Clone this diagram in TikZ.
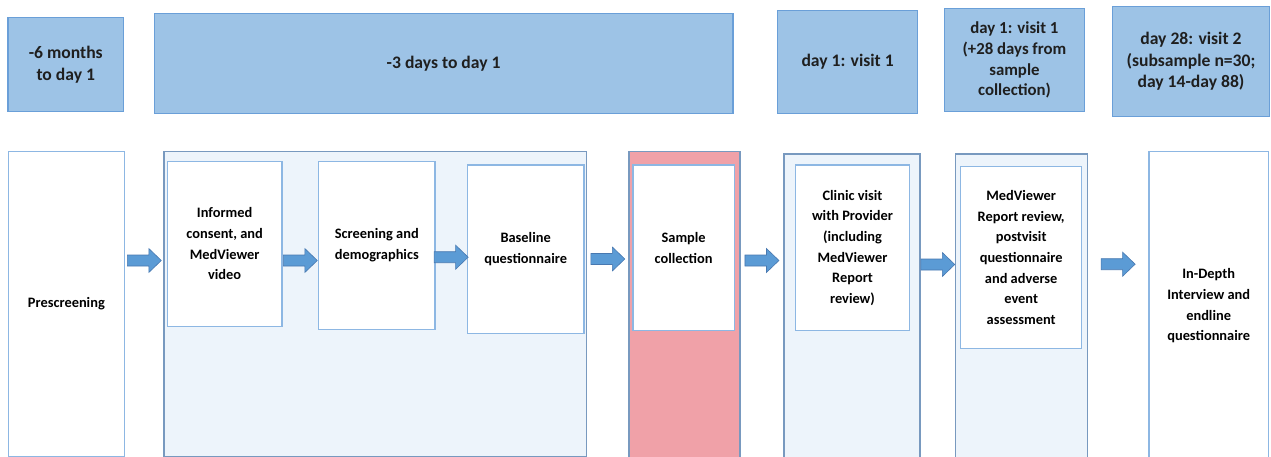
\documentclass[tikz,border=0pt]{standalone}
\usepackage{fontspec}
\setmainfont{Carlito}
\usetikzlibrary{calc}
\definecolor{hdrfill}{HTML}{9DC3E6}
\definecolor{hdrline}{HTML}{6A9FD8}
\definecolor{grpfill}{HTML}{EDF4FB}
\definecolor{grpline}{HTML}{7899BF}
\definecolor{boxline}{HTML}{8DB7E3}
\definecolor{pinkfill}{HTML}{F0A1A8}
\definecolor{arrowfill}{HTML}{5B9BD5}
\definecolor{arrowline}{HTML}{4878B0}
\begin{document}
\begin{tikzpicture}[x=1pt,y=-1pt,
    every node/.style={anchor=north west, inner sep=2pt, align=center},
    hdr/.style={fill=hdrfill, draw=hdrline, line width=1.2pt, text=black!88, font=\fontsize{17.6}{21.8}\selectfont\bfseries},
    grp/.style={fill=grpfill, draw=grpline, line width=1.3pt},
    stepbox/.style={fill=white, draw=boxline, line width=1.3pt, font=\fontsize{14.4}{20.6}\selectfont\bfseries},
    flow/.style={fill=arrowfill, draw=arrowline, line width=0.6pt,
      to path={let \p1=($(\tikztostart)!.5!(\tikztotarget)$) in
        (\x1-17pt,\y1-5.5pt) -- (\x1+4.5pt,\y1-5.5pt) -- (\x1+4.5pt,\y1-12pt) -- (\x1+17pt,\y1)
        -- (\x1+4.5pt,\y1+12pt) -- (\x1+4.5pt,\y1+5.5pt) -- (\x1-17pt,\y1+5.5pt) -- cycle}}]
    \useasboundingbox (0,0) rectangle (1271,457);
    \node (h1) at (7.3,16.7) [hdr, minimum width=115.7pt, minimum height=94.6pt]{-6 months\\to day 1};
    \node (h2) at (153.7,12.7) [hdr, minimum width=578.6pt, minimum height=100pt]{-3 days to day 1};
    \node (h3) at (777,10) [hdr, minimum width=140pt, minimum height=102.7pt]{day 1: visit 1};
    \node (h4) at (944,8.3) [hdr, minimum width=139.7pt, minimum height=102.7pt, font=\fontsize{16.8}{20.6}\selectfont\bfseries]{day 1: visit 1\\(+28 days from\\sample\\collection)};
    \node (h5) at (1111.7,5.7) [hdr, minimum width=157.3pt, minimum height=110pt]{day 28: visit 2\\(subsample n=30;\\day 14-day 88)};
    \node (s0) at (7.5,151) [stepbox, minimum width=116.5pt, minimum height=304.5pt]{Prescreening};
    \node (g1) at (163.3,150.7) [grp, minimum width=422.7pt, minimum height=305pt]{};
    \node (s1) at (166.7,160.7) [stepbox, minimum width=114.6pt, minimum height=165pt]{Informed\\consent, and\\MedViewer\\video};
    \node (s2) at (318,160.7) [stepbox, minimum width=116.3pt, minimum height=168pt]{Screening and\\demographics};
    \node (s3) at (466.7,164.3) [stepbox, minimum width=116.6pt, minimum height=168.4pt]{Baseline\\questionnaire};
    \node (g2) at (628.3,150.7) [grp, fill=pinkfill, minimum width=111pt, minimum height=310pt]{};
    \node (s4) at (632.3,164.3) [stepbox, minimum width=101.4pt, minimum height=165.7pt]{Sample\\collection};
    \node (g3) at (783.3,153.3) [grp, minimum width=136pt, minimum height=310pt]{};
    \node (s5) at (795,164.3) [stepbox, minimum width=113.7pt, minimum height=165.7pt]{Clinic visit\\with Provider\\(including\\MedViewer\\Report\\review)};
    \node (g4) at (955,153.3) [grp, minimum width=131.7pt, minimum height=310pt]{};
    \node (s6) at (960,165.7) [stepbox, minimum width=121pt, minimum height=182.3pt]{MedViewer\\Report review,\\postvisit\\questionnaire\\and adverse\\event\\assessment};
    \node (s7) at (1148.3,150.7) [stepbox, minimum width=119.4pt, minimum height=309pt]{In-Depth\\Interview and\\endline\\questionnaire};
    \draw[flow] (s0.east |- 0,260.5) to (g1.west |- 0,260.5);
    \draw[flow] (s1.east |- 0,260.5) to (s2.west |- 0,260.5);
    \draw[flow] (s2.east |- 0,257.2) to (s3.west |- 0,257.2);
    \draw[flow] (g1.east |- 0,259) to (g2.west |- 0,259);
    \draw[flow] (g2.east |- 0,260.5) to (g3.west |- 0,260.5);
    \draw[flow] (g3.east |- 0,264.5) to (g4.west |- 0,264.5);
    \draw[flow] (g4.east |- 0,264.2) to (s7.west |- 0,264.2);
\end{tikzpicture}
\end{document}
